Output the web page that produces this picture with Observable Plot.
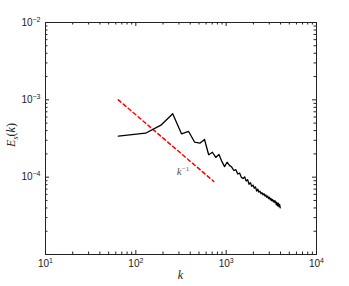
<!DOCTYPE html>
<html><head><meta charset="utf-8">
<script src="https://cdn.jsdelivr.net/npm/d3@7"></script>
<script src="https://cdn.jsdelivr.net/npm/@observablehq/plot@0.6"></script>
<style>body{margin:0;background:#fff}</style>
</head><body><div id="chart"></div>
<script>
// wavenumbers
const kValues = [64,128,192,256,320,384,448,512,576,640,704,768,832,896,960,1024,1088,1152,1216,1280,1344,1408,1472,1536,1600,1664,1728,1792,1856,1920,1984,2048,2112,2176,2240,2304,2368,2432,2496,2560,2624,2688,2752,2816,2880,2944,3008,3072,3136,3200,3264,3328,3392,3456,3520,3584,3648,3712,3776,3840,3904,3968];
// spectrum E_s(k)
const spectrum = [3.39e-4,3.70e-4,4.75e-4,6.6e-4,3.64e-4,3.9e-4,2.83e-4,2.75e-4,3.07e-4,1.95e-4,
  2.1e-4,1.8e-4,1.97e-4,1.6e-4,1.37e-4,1.56e-4,1.42e-4,1.35e-4,1.22e-4,1.25e-4,
  1.10e-4,1.13e-4,1.0e-4,9.6e-5,1.01e-4,8.9e-5,9.3e-5,8.1e-5,8.5e-5,7.6e-5,
  7.9e-5,7.2e-5,7.5e-5,6.6e-5,7.0e-5,6.4e-5,6.6e-5,6.1e-5,6.3e-5,5.9e-5,
  6.1e-5,5.7e-5,5.9e-5,5.5e-5,5.7e-5,5.3e-5,5.5e-5,5.1e-5,5.3e-5,4.95e-5,
  5.15e-5,4.8e-5,5.0e-5,4.7e-5,4.9e-5,4.4e-5,4.7e-5,4.25e-5,4.6e-5,4.15e-5,4.45e-5,4.0e-5];
// reference slope k^-1
const refK = [64, 730];
const refE = [1e-3, 8.8e-5];
const refLabelK = 337, refLabelE = 1.18e-4;
// ticks
const xTickValues = [10, 100, 1000, 10000];
const xTickLabels = ["10^1", "10^2", "10^3", "10^4"];
const yTickValues = [1e-4, 1e-3, 1e-2];
const yTickLabels = ["10^\u22124", "10^\u22123", "10^\u22122"];
const xMajor = [10, 100, 1000, 10000];
const yMajor = [1e-5, 1e-4, 1e-3, 1e-2];

const W = 349, H = 286, mt = 22, mb = 32, ml = 45, mr = 33;
const ih = H - mt - mb, iw = W - ml - mr;
const xMinor = [], yMinor = [];
for (let e = 1; e < 4; e++) for (let m = 2; m < 10; m++) xMinor.push(m * 10 ** e);
for (let e = -5; e < -2; e++) for (let m = 2; m < 10; m++) yMinor.push(m * 10 ** e);

const data = kValues.map((k, i) => ({k, E: spectrum[i]}));
const ref = refK.map((k, i) => ({k, E: refE[i]}));
const ink = "#222";

const plot = Plot.plot({
  width: W, height: H, marginTop: mt, marginBottom: mb, marginLeft: ml, marginRight: mr,
  style: {fontFamily: "'Liberation Sans', Arial, sans-serif", fontSize: "10px", color: ink, background: "white", overflow: "visible"},
  x: {type: "log", domain: [10, 1e4], label: null},
  y: {type: "log", domain: [1e-5, 1e-2], label: null},
  marks: [
    Plot.axisX(xTickValues, {tickSize: 0, tickPadding: 5, tickFormat: d => xTickLabels[xTickValues.indexOf(d)], fill: ink}),
    Plot.axisY(yTickValues, {tickSize: 0, tickPadding: 5, tickFormat: d => yTickLabels[yTickValues.indexOf(d)], fill: ink}),
    Plot.tickX(xMajor, {x: d => d, insetTop: ih - 4, stroke: ink}),
    Plot.tickX(xMajor, {x: d => d, insetBottom: ih - 4, stroke: ink}),
    Plot.tickX(xMinor, {x: d => d, insetTop: ih - 2.5, stroke: ink}),
    Plot.tickX(xMinor, {x: d => d, insetBottom: ih - 2.5, stroke: ink}),
    Plot.tickY(yMajor, {y: d => d, insetRight: iw - 4, stroke: ink}),
    Plot.tickY(yMajor, {y: d => d, insetLeft: iw - 4, stroke: ink}),
    Plot.tickY(yMinor, {y: d => d, insetRight: iw - 2.5, stroke: ink}),
    Plot.tickY(yMinor, {y: d => d, insetLeft: iw - 2.5, stroke: ink}),
    Plot.frame({stroke: ink, strokeWidth: 1}),
    Plot.line(ref, {x: "k", y: "E", stroke: "red", strokeWidth: 1.5, strokeDasharray: "3.5,3"}),
    Plot.line(data, {x: "k", y: "E", stroke: "black", strokeWidth: 1.3})
  ]
});
document.getElementById("chart").appendChild(plot);

// superscript exponents on tick labels
const svg = d3.select(plot);
svg.selectAll('g[aria-label$="tick label"] text').each(function() {
  const t = d3.select(this);
  const s = t.text();
  if (s.indexOf("^") < 0) return;
  const [base, exp] = s.split("^");
  t.text(base);
  t.append("tspan").attr("font-size", "7px").attr("dy", "-4").text(exp);
});

const sx = plot.scale("x"), sy = plot.scale("y");
// x label
svg.append("text").attr("x", sx.apply(Math.sqrt(10 * 1e4))).attr("y", 279)
  .attr("text-anchor", "middle").attr("font-family", "'Liberation Serif', 'DejaVu Serif', serif")
  .attr("font-style", "italic").attr("font-size", "12px").attr("fill", ink).text("k");
// y label
const yl = svg.append("text").attr("transform", `translate(15,${(mt + H - mb) / 2 - 3}) rotate(-90)`)
  .attr("text-anchor", "middle").attr("font-family", "'Liberation Serif', 'DejaVu Serif', serif")
  .attr("font-size", "12px").attr("fill", ink);
yl.append("tspan").attr("font-style", "italic").text("E");
yl.append("tspan").attr("font-style", "italic").attr("font-size", "8px").attr("dy", "3").text("s");
yl.append("tspan").attr("dy", "-3").text("(");
yl.append("tspan").attr("font-style", "italic").text("k");
yl.append("tspan").text(")");
// k^-1 annotation
const an = svg.append("text").attr("x", sx.apply(refLabelK)).attr("y", sy.apply(refLabelE) + 4)
  .attr("text-anchor", "middle").attr("font-family", "'Liberation Serif', 'DejaVu Serif', serif")
  .attr("font-size", "11px").attr("fill", "#555");
an.append("tspan").attr("font-style", "italic").text("k");
an.append("tspan").attr("font-size", "7px").attr("dy", "-4").text("\u22121");
</script>
</body></html>
